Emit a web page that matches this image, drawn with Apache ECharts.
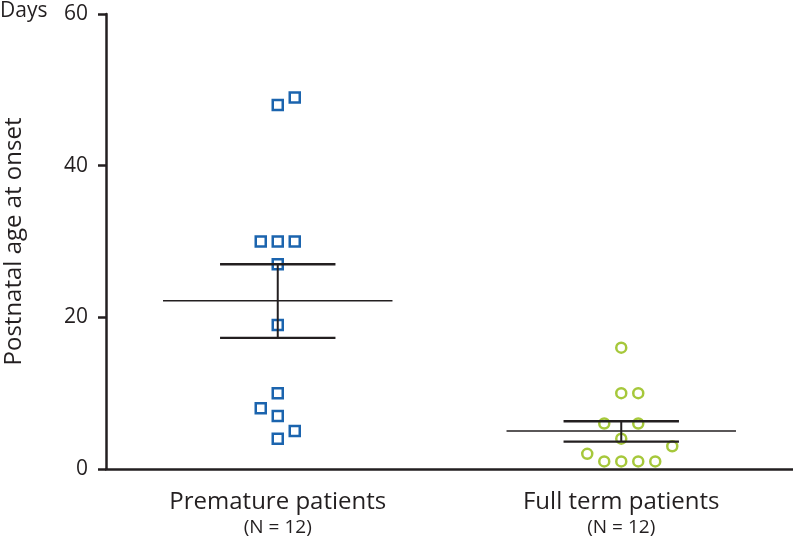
<!DOCTYPE html>
<html><head><meta charset="utf-8">
<script src="https://cdn.jsdelivr.net/npm/echarts@6/dist/echarts.min.js"></script>
<style>html,body{margin:0;padding:0;background:#fff}#c{width:793px;height:546px}</style>
</head><body><div id="c"></div>
<script>
const categories = ['Premature patients', 'Full term patients'];
const groupSizes = ['N = 12', 'N = 12'];
const yTicks = [0, 20, 40, 60];
const prematureValues = [48, 49, 30, 30, 30, 27, 19, 10, 8, 7, 5, 4];
const prematureSlots  = [0, 1, -1, 0, 1, 0, 0, 0, -1, 0, 1, 0];
const fullTermValues  = [16, 10, 10, 6, 6, 4, 2, 3, 1, 1, 1, 1];
const fullTermSlots   = [0, 0, 1, -1, 1, 0, -2, 3, -1, 0, 1, 2];
const groupMeans   = [22.2, 5.0];
const semLower     = [17.3, 3.6];
const semUpper     = [27.0, 6.3];

const INK = '#231f20';
const SLOT_PX = 17;
function pts(vals, slots, ci){
  return vals.map((v,i)=>({value:[ci, v], symbolOffset:[slots[i]*SLOT_PX, 0]}));
}

const chart = echarts.init(document.getElementById('c'), null, {renderer:'canvas'});
chart.setOption({
  animation:false,
  grid:{left:106, right:0, top:14, bottom:77, containLabel:false, outerBoundsMode:'none'},
  textStyle:{fontFamily:'Open Sans'},
  graphic:[{type:'text', left:0, top:1, style:{text:'Days', fontSize:21, fill:INK, fontFamily:'Open Sans'}}],
  xAxis:{
    type:'category', data:categories, boundaryGap:true,
    axisLine:{lineStyle:{color:INK, width:2.5}},
    axisTick:{alignWithLabel:true, length:8, lineStyle:{color:INK, width:2.5}},
    axisLabel:{margin:19, interval:0,
      formatter:(v,i)=>'{a|'+v+'}\n{b|('+groupSizes[i]+')}',
      rich:{a:{fontSize:24, color:INK, fontFamily:'Open Sans', lineHeight:28},
            b:{fontSize:19, color:INK, fontFamily:'Open Sans', lineHeight:24}}},
    splitLine:{show:false}
  },
  yAxis:{
    type:'value', min:yTicks[0], max:yTicks[yTicks.length-1], interval:20,
    name:'Postnatal age at onset', nameLocation:'middle', nameGap:80, nameRotate:90,
    nameTextStyle:{fontSize:24, color:INK, fontFamily:'Open Sans'},
    axisLine:{show:true, lineStyle:{color:INK, width:2.5}},
    axisTick:{show:true, length:8, lineStyle:{color:INK, width:2.5}},
    axisLabel:{fontSize:21, color:INK, margin:18, fontFamily:'Open Sans'},
    splitLine:{show:false}
  },
  series:[
    {type:'custom', z:3, data:groupMeans.map((m,i)=>[i, m, semLower[i], semUpper[i]]),
     renderItem:function(params, api){
       const c=api.value(0);
       const pm=api.coord([c, api.value(1)]);
       const plo=api.coord([c, api.value(2)]);
       const phi=api.coord([c, api.value(3)]);
       const bw=api.size([1,0])[0];
       const wm=bw*0.334, ws=bw*0.168;
       const st={stroke:INK, lineWidth:2.3};
       return {type:'group', children:[
         {type:'line', shape:{x1:pm[0]-wm,y1:pm[1],x2:pm[0]+wm,y2:pm[1]}, style:{stroke:INK,lineWidth:1.5}},
         {type:'line', shape:{x1:plo[0]-ws,y1:plo[1],x2:plo[0]+ws,y2:plo[1]}, style:st},
         {type:'line', shape:{x1:phi[0]-ws,y1:phi[1],x2:phi[0]+ws,y2:phi[1]}, style:st},
         {type:'line', shape:{x1:pm[0],y1:plo[1],x2:pm[0],y2:phi[1]}, style:{stroke:INK,lineWidth:2}}
       ]};
     }},
    {type:'scatter', z:2, symbol:'rect', symbolSize:10,
     itemStyle:{color:'#ffffff', borderColor:'#1b64ae', borderWidth:2.5, opacity:1},
     data:pts(prematureValues, prematureSlots, 0)},
    {type:'scatter', z:2, symbol:'circle', symbolSize:10,
     itemStyle:{color:'#ffffff', borderColor:'#a6c83b', borderWidth:2.5, opacity:1},
     data:pts(fullTermValues, fullTermSlots, 1)}
  ]
});
</script></body></html>
